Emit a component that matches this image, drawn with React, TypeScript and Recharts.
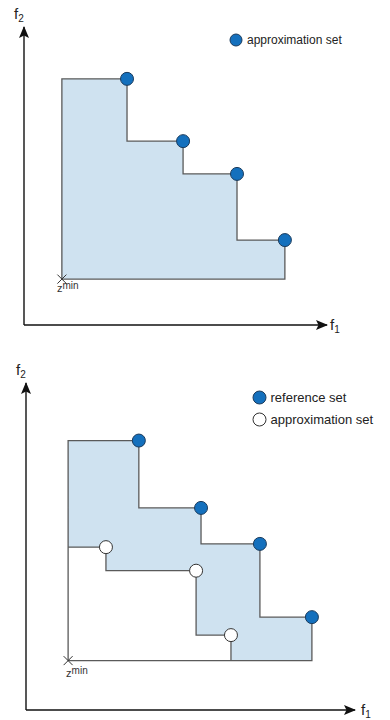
import React from 'react'
import { ComposedChart, XAxis, YAxis, ReferenceArea, Line, Scatter, Label } from 'recharts'

// upper panel: one approximation set
const topSetF1 = [3.4, 5.25, 7.03, 8.61]
const topSetF2 = [8.26, 6.17, 5.07, 2.85]
const topZmin = { x: 1.25, y: 1.54 }

// lower panel: reference set vs approximation set
const refSetF1 = [3.43, 5.32, 7.11, 8.69]
const refSetF2 = [8.24, 6.18, 5.08, 2.84]
const approxSetF1 = [2.43, 5.17, 6.23]
const approxSetF2 = [4.98, 4.26, 2.29]
const bottomZmin = { x: 1.28, y: 1.51 }

const legendTop = ['approximation set']
const legendBottom = ['reference set', 'approximation set']

const BLUE = '#1470bd'
const BLUE_EDGE = '#1b3b5c'
const FILL = '#cfe2f0'
const EDGE = '#5a5a5a'
const FONT = '"Liberation Sans", Arial, sans-serif'

interface Pt {
  x: number
  y: number
}

const toPoints = (xs: number[], ys: number[]): Pt[] => xs.map((x, i) => ({ x, y: ys[i] }))

// staircase from the left edge (at z.x) through every point, ending at z.y
const stairs = (pts: Pt[], z: Pt): Pt[] => {
  const out: Pt[] = [{ x: z.x, y: pts[0].y }]
  pts.forEach((p, i) => {
    out.push({ x: p.x, y: p.y })
    out.push({ x: p.x, y: i < pts.length - 1 ? pts[i + 1].y : z.y })
  })
  return out
}

const closed = (pts: Pt[], z: Pt): Pt[] => [{ x: z.x, y: z.y }, ...stairs(pts, z), { x: z.x, y: z.y }]

const dotShape = (fill: string, stroke: string, r: number) => (props: any) => (
  <circle cx={props.cx} cy={props.cy} r={r} fill={fill} stroke={stroke} strokeWidth={1} />
)

const zminShape = (dx: number, dy: number) => (props: any) => {
  const { cx, cy } = props
  return (
    <g>
      <line x1={cx - 4.5} y1={cy - 4.5} x2={cx + 4.5} y2={cy + 4.5} stroke="#333" strokeWidth={1} />
      <line x1={cx - 4.5} y1={cy + 4.5} x2={cx + 4.5} y2={cy - 4.5} stroke="#333" strokeWidth={1} />
      <text x={cx + dx} y={cy + dy} fontFamily={FONT} fontSize={11} fill="#333">
        z
        <tspan fontSize={10} dy={-3}>
          min
        </tspan>
      </text>
    </g>
  )
}

const xName = (gap: number) => (props: any) => {
  const vb = props.viewBox
  return (
    <text x={vb.x + vb.width + gap} y={vb.y + 5} fontFamily={FONT} fontSize={15} fill="#222">
      f
      <tspan fontSize={10} dy={3}>
        1
      </tspan>
    </text>
  )
}

const yName = (props: any) => {
  const vb = props.viewBox
  return (
    <text x={vb.x + vb.width - 10} y={vb.y - 8} fontFamily={FONT} fontSize={15} fill="#222">
      f
      <tspan fontSize={10} dy={3}>
        2
      </tspan>
    </text>
  )
}

const axisLineX = { stroke: '#111', strokeWidth: 1.4, markerEnd: 'url(#arrowHead)' }
const axisLineY = { stroke: '#111', strokeWidth: 1.4, markerStart: 'url(#arrowHead)' }

const LegendItem = (p: { left: number; top: number; r: number; fill: string; stroke: string; size: number; text: string }) => (
  <div style={{ position: 'absolute', left: p.left - p.r - 1, top: p.top - p.r - 1, display: 'flex', alignItems: 'center' }}>
    <svg width={p.r * 2 + 2} height={p.r * 2 + 2}>
      <circle cx={p.r + 1} cy={p.r + 1} r={p.r} fill={p.fill} stroke={p.stroke} strokeWidth={1} />
    </svg>
    <span style={{ marginLeft: 4, fontFamily: FONT, fontSize: p.size, color: '#222', lineHeight: 1 }}>{p.text}</span>
  </div>
)

const App: React.FC = () => {
  const topPts = toPoints(topSetF1, topSetF2)
  const refPts = toPoints(refSetF1, refSetF2)
  const apxPts = toPoints(approxSetF1, approxSetF2)

  return (
    <div style={{ position: 'absolute', left: 0, top: 0, width: 390, height: 720, background: '#fff' }}>
      <svg width={0} height={0} style={{ position: 'absolute' }}>
        <defs>
          <marker
            id="arrowHead"
            viewBox="0 0 12 10"
            refX={11}
            refY={5}
            markerUnits="userSpaceOnUse"
            markerWidth={12}
            markerHeight={10}
            orient="auto-start-reverse"
          >
            <path d="M0,0 L12,5 L0,10 L2.5,5 z" fill="#111" />
          </marker>
        </defs>
      </svg>

      <div style={{ position: 'absolute', left: 0, top: 0 }}>
        <ComposedChart width={390} height={340} margin={{ top: 27, right: 63, bottom: 14, left: 23 }}>
          <XAxis type="number" dataKey="x" domain={[0, 10]} tick={false} tickLine={false} height={1} axisLine={axisLineX}>
            <Label content={xName(3)} />
          </XAxis>
          <YAxis type="number" dataKey="y" domain={[0, 10]} tick={false} tickLine={false} width={1} axisLine={axisLineY}>
            <Label content={yName} />
          </YAxis>
          {topPts.map((p, i) => (
            <ReferenceArea key={'t' + i} x1={topZmin.x} x2={p.x} y1={topZmin.y} y2={p.y} fill={FILL} fillOpacity={1} stroke="none" ifOverflow="visible" />
          ))}
          <Line data={closed(topPts, topZmin)} dataKey="y" type="linear" stroke={EDGE} strokeWidth={1.3} dot={false} activeDot={false} isAnimationActive={false} />
          <Scatter data={[topZmin]} shape={zminShape(-5, 13)} isAnimationActive={false} />
          <Scatter data={topPts} shape={dotShape(BLUE, BLUE_EDGE, 6.5)} isAnimationActive={false} />
        </ComposedChart>
        <LegendItem left={236} top={40} r={6} fill={BLUE} stroke={BLUE_EDGE} size={12} text={legendTop[0]} />
      </div>

      <div style={{ position: 'absolute', left: 0, top: 340, width: 390, height: 380 }}>
        <ComposedChart width={390} height={380} margin={{ top: 43, right: 35, bottom: 9, left: 25 }}>
          <XAxis type="number" dataKey="x" domain={[0, 10]} tick={false} tickLine={false} height={1} axisLine={axisLineX}>
            <Label content={xName(6)} />
          </XAxis>
          <YAxis type="number" dataKey="y" domain={[0, 10]} tick={false} tickLine={false} width={1} axisLine={axisLineY}>
            <Label content={yName} />
          </YAxis>
          {refPts.map((p, i) => (
            <ReferenceArea key={'r' + i} x1={bottomZmin.x} x2={p.x} y1={bottomZmin.y} y2={p.y} fill={FILL} fillOpacity={1} stroke="none" ifOverflow="visible" />
          ))}
          {apxPts.map((p, i) => (
            <ReferenceArea key={'a' + i} x1={bottomZmin.x} x2={p.x} y1={bottomZmin.y} y2={p.y} fill="#fff" fillOpacity={1} stroke="none" ifOverflow="visible" />
          ))}
          <Line data={closed(refPts, bottomZmin)} dataKey="y" type="linear" stroke={EDGE} strokeWidth={1.3} dot={false} activeDot={false} isAnimationActive={false} />
          <Line data={stairs(apxPts, bottomZmin)} dataKey="y" type="linear" stroke={EDGE} strokeWidth={1.3} dot={false} activeDot={false} isAnimationActive={false} />
          <Scatter data={[bottomZmin]} shape={zminShape(-2, 16)} isAnimationActive={false} />
          <Scatter data={refPts} shape={dotShape(BLUE, BLUE_EDGE, 6.5)} isAnimationActive={false} />
          <Scatter data={apxPts} shape={dotShape('#fff', '#333', 6.5)} isAnimationActive={false} />
        </ComposedChart>
        <LegendItem left={259} top={57} r={6.5} fill={BLUE} stroke={BLUE_EDGE} size={13} text={legendBottom[0]} />
        <LegendItem left={259} top={79} r={6.5} fill="#fff" stroke="#333" size={13} text={legendBottom[1]} />
      </div>
    </div>
  )
}

export default App
